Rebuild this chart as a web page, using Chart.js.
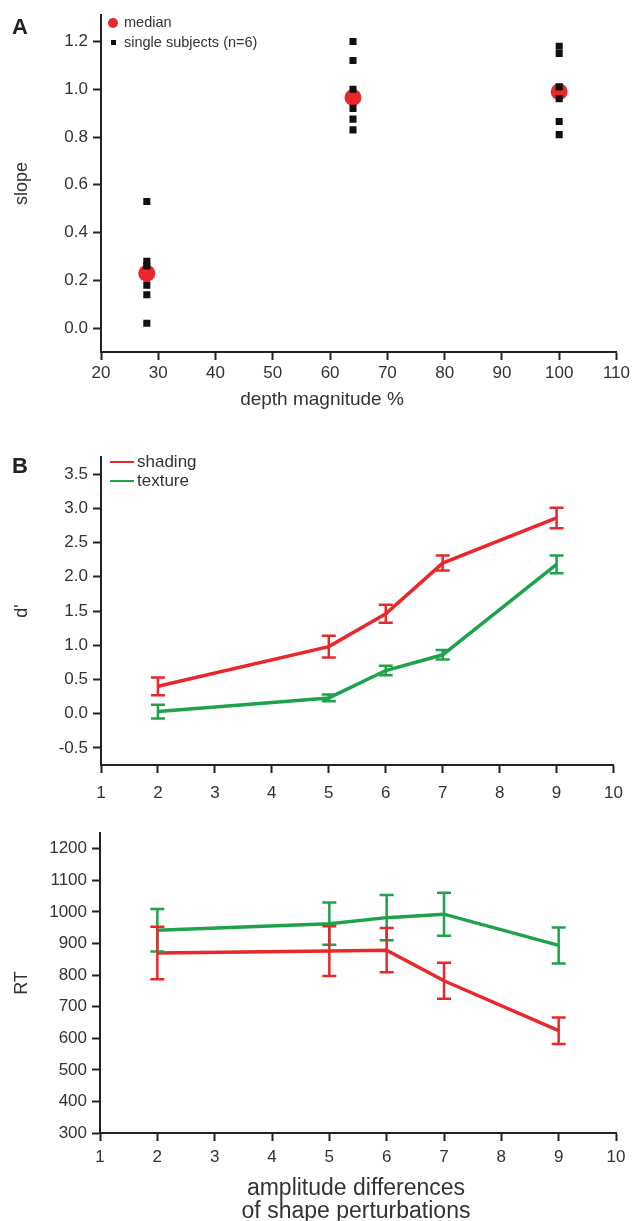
<!DOCTYPE html>
<html>
<head>
<meta charset="utf-8">
<script src="https://cdn.jsdelivr.net/npm/chart.js@4/dist/chart.umd.min.js"></script>
<style>
  body { margin: 0; background: #fff; }
  #wrap { position: relative; width: 633px; height: 1221px; font-family: "Liberation Sans", Arial, sans-serif; color: #333; }
  #wrap canvas { position: absolute; left: 0; }
  .txt { position: absolute; white-space: nowrap; line-height: 1; }
  .letter { font-weight: bold; font-size: 22px; color: #222; }
  .dot { position: absolute; border-radius: 50%; background: #e8282b; }
  .sq { position: absolute; background: #111; }
  .ln { position: absolute; height: 2px; }
</style>
</head>
<body>
<div id="wrap">
  <canvas id="chartA" width="633" height="420" style="top:0"></canvas>
  <canvas id="chartB" width="633" height="375" style="top:430px"></canvas>
  <canvas id="chartC" width="633" height="416" style="top:805px"></canvas>

  <div class="txt letter" style="left:12px;top:16px">A</div>
  <div class="dot" style="left:108px;top:18px;width:10px;height:10px"></div>
  <div class="txt" style="left:124px;top:15px;font-size:14.5px">median</div>
  <div class="sq" style="left:111px;top:40px;width:5px;height:5px"></div>
  <div class="txt" style="left:124px;top:35px;font-size:14.5px">single subjects (n=6)</div>
  <div class="txt" style="left:322px;top:398px;font-size:19px;transform:translate(-50%,-50%)">depth magnitude %</div>

  <div class="txt letter" style="left:12px;top:455px">B</div>
  <div class="ln" style="left:110px;top:461px;width:24px;background:#e8282b"></div>
  <div class="txt" style="left:137px;top:453px;font-size:17px">shading</div>
  <div class="ln" style="left:110px;top:480px;width:24px;background:#1fa34a"></div>
  <div class="txt" style="left:137px;top:472px;font-size:17px">texture</div>

  <div class="txt" style="left:356px;top:1187px;font-size:23px;transform:translate(-50%,-50%)">amplitude differences</div>
  <div class="txt" style="left:356px;top:1210px;font-size:23px;transform:translate(-50%,-50%)">of shape perturbations</div>
</div>
<script>
// panel A: slope vs depth magnitude
const depthLevels = [28, 64, 100];
const slopeMedian = [0.23, 0.965, 0.99];
const subjects28 = [0.53, 0.28, 0.26, 0.18, 0.14, 0.02];
const subjects64 = [1.20, 1.12, 1.00, 0.92, 0.875, 0.83];
const subjects100 = [1.18, 1.15, 1.01, 0.96, 0.865, 0.81];
const depthTicks = [20, 30, 40, 50, 60, 70, 80, 90, 100, 110];
const slopeTicks = [0.0, 0.2, 0.4, 0.6, 0.8, 1.0, 1.2];

// panel B / C: amplitude differences
const amplitudes = [2, 5, 6, 7, 9];
const ampTicks = [1, 2, 3, 4, 5, 6, 7, 8, 9, 10];
const dShading = [0.40, 0.98, 1.46, 2.20, 2.86];
const dShadingErr = [0.13, 0.16, 0.13, 0.11, 0.15];
const dTexture = [0.03, 0.23, 0.63, 0.86, 2.18];
const dTextureErr = [0.10, 0.05, 0.07, 0.07, 0.13];
const dTicks = [-0.5, 0.0, 0.5, 1.0, 1.5, 2.0, 2.5, 3.0, 3.5];

const rtShading = [870, 876, 879, 782, 624];
const rtShadingErr = [83, 79, 70, 57, 42];
const rtTexture = [942, 963, 982, 993, 894];
const rtTextureErr = [67, 67, 72, 68, 57];
const rtTicks = [300, 400, 500, 600, 700, 800, 900, 1000, 1100, 1200];

const RED = '#e8282b';
const GREEN = '#1fa34a';
const AXIS = '#222';
const FONT = '"Liberation Sans", Arial, sans-serif';

Chart.defaults.font.family = FONT;
Chart.defaults.color = '#333';

const pairs = (xs, ys) => xs.map((x, i) => ({ x: x, y: ys[i] }));

// vertical error bars with caps, positioned through the chart scales
const errorBars = {
    id: 'errorBars',
    afterDatasetsDraw(chart) {
        const ctx = chart.ctx;
        const xs = chart.scales.x, ys = chart.scales.y;
        chart.data.datasets.forEach(ds => {
            if (!ds.err) return;
            ctx.save();
            ctx.strokeStyle = ds.borderColor;
            ctx.lineWidth = 2.5;
            ds.data.forEach((p, i) => {
                const px = xs.getPixelForValue(p.x);
                const top = ys.getPixelForValue(p.y + ds.err[i]);
                const bot = ys.getPixelForValue(p.y - ds.err[i]);
                ctx.beginPath();
                ctx.moveTo(px, top); ctx.lineTo(px, bot);
                ctx.moveTo(px - 7, top); ctx.lineTo(px + 7, top);
                ctx.moveTo(px - 7, bot); ctx.lineTo(px + 7, bot);
                ctx.stroke();
            });
            ctx.restore();
        });
    }
};

function axis(min, max, ticks, fmt, pad, size) {
    return {
        type: 'linear', min: min, max: max,
        afterBuildTicks: s => { s.ticks = ticks.map(v => ({ value: v })); },
        afterFit: s => { if (s.isHorizontal()) s.height = size; else s.width = size; },
        grid: { display: true, drawOnChartArea: false, drawTicks: true, tickLength: 8, tickWidth: 2, tickColor: AXIS },
        border: { display: true, color: AXIS, width: 2 },
        ticks: { font: { size: 17 }, color: '#333', padding: pad, maxRotation: 0, autoSkip: false, callback: fmt }
    };
}

const common = {
    responsive: false,
    animation: false,
    devicePixelRatio: 1,
    plugins: { legend: { display: false }, tooltip: { enabled: false } }
};

function yTitle(text) {
    return { display: true, text: text, font: { size: 18 }, color: '#333', padding: { top: 11, bottom: 0 } };
}

// A
const allSubjects = [subjects28, subjects64, subjects100];
new Chart(document.getElementById('chartA'), {
    type: 'scatter',
    data: {
        datasets: [
            {
                label: 'single subjects (n=6)',
                data: allSubjects.flatMap((vals, i) => vals.map(v => ({ x: depthLevels[i], y: v }))),
                pointStyle: 'rect', pointRadius: 5, backgroundColor: '#111', borderWidth: 0
            },
            {
                label: 'median',
                data: pairs(depthLevels, slopeMedian),
                pointStyle: 'circle', pointRadius: 8.5, backgroundColor: RED, borderWidth: 0
            }
        ]
    },
    options: Object.assign({}, common, {
        layout: { padding: { top: 15, right: 16, bottom: 0, left: 0 } },
        scales: {
            x: axis(20, 110, depthTicks, v => v, 3, 68),
            y: Object.assign(axis(-0.1, 1.31, slopeTicks, v => v.toFixed(1), 5, 101), { title: yTitle('slope') })
        }
    })
});

function lineSet(label, ys, err, color) {
    return {
        label: label, data: pairs(amplitudes, ys), err: err,
        showLine: true, borderColor: color, backgroundColor: color,
        borderWidth: 3.5, pointRadius: 0, tension: 0
    };
}

// B
new Chart(document.getElementById('chartB'), {
    type: 'scatter',
    data: {
        datasets: [
            lineSet('shading', dShading, dShadingErr, RED),
            lineSet('texture', dTexture, dTextureErr, GREEN)
        ]
    },
    options: Object.assign({}, common, {
        layout: { padding: { top: 27, right: 17, bottom: 0, left: 0 } },
        scales: {
            x: axis(1, 10, ampTicks, v => v, 10, 40),
            y: Object.assign(axis(-0.75, 3.75, dTicks, v => v.toFixed(1), 5, 101), { title: yTitle("d'") })
        }
    }),
    plugins: [errorBars]
});

// C
new Chart(document.getElementById('chartC'), {
    type: 'scatter',
    data: {
        datasets: [
            lineSet('texture', rtTexture, rtTextureErr, GREEN),
            lineSet('shading', rtShading, rtShadingErr, RED)
        ]
    },
    options: Object.assign({}, common, {
        layout: { padding: { top: 28, right: 17, bottom: 0, left: 0 } },
        scales: {
            x: axis(1, 10, ampTicks, v => v, 6, 88),
            y: Object.assign(axis(300, 1250, rtTicks, v => v, 5, 100), { title: yTitle('RT') })
        }
    }),
    plugins: [errorBars]
});
</script>
</body>
</html>
